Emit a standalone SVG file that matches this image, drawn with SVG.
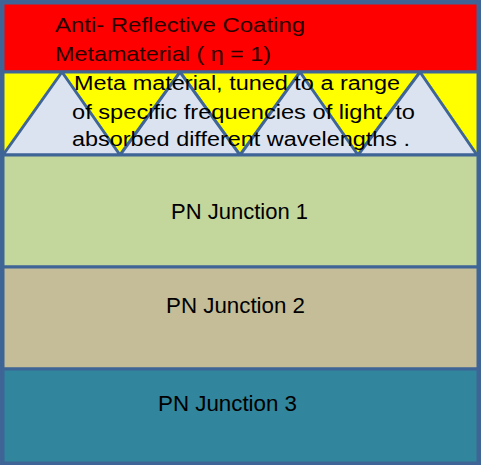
<svg xmlns="http://www.w3.org/2000/svg" width="481" height="465" viewBox="0 0 481 465">
<style>
.ln{stroke:#3F6597;stroke-width:3}
.t{font-family:"Liberation Sans","DejaVu Sans",sans-serif;font-size:20px;fill:#000}
.h{font-size:21px;fill:#2a0000}
.p{font-size:22px}
.tri{fill:#DCE3F0;stroke:#3F6597;stroke-width:3;stroke-linejoin:round}
</style>
<rect x="0" y="0" width="481" height="465" fill="#3F6597"/>
<g id="coating">
<rect x="3" y="3" width="475" height="69" fill="#FF0000" class="ln"/>
<text class="t h" x="55" y="32" textLength="250" lengthAdjust="spacingAndGlyphs">Anti- Reflective  Coating</text>
<text class="t h" x="55" y="61" textLength="216" lengthAdjust="spacingAndGlyphs">Metamaterial ( η = 1)</text>
</g>
<g id="metamaterial">
<rect x="3" y="72" width="475" height="83" fill="#FFFF00" class="ln"/>
<polygon points="3,155 62,72 120,155" class="tri"/>
<polygon points="120,155 180,72 240,155" class="tri"/>
<polygon points="240,155 300,72 358,155" class="tri"/>
<polygon points="358,155 420,72 477,155" class="tri"/>
<text class="t" x="74" y="90" textLength="326" lengthAdjust="spacingAndGlyphs">Meta material, tuned to a range</text>
<text class="t" x="72" y="119" textLength="343" lengthAdjust="spacingAndGlyphs">of specific frequencies of light. to</text>
<text class="t" x="72" y="146" textLength="338" lengthAdjust="spacingAndGlyphs">absorbed different wavelengths .</text>
</g>
<g id="pn1">
<rect x="3" y="155" width="475" height="112" fill="#C3D69B" class="ln"/>
<text class="t p" x="171" y="219" textLength="137" lengthAdjust="spacingAndGlyphs">PN Junction 1</text>
</g>
<g id="pn2">
<rect x="3" y="267" width="475" height="102" fill="#C4BD97" class="ln"/>
<text class="t p" x="166" y="313" textLength="139" lengthAdjust="spacingAndGlyphs">PN Junction 2</text>
</g>
<g id="pn3">
<rect x="3" y="369" width="475" height="94" fill="#31859C" class="ln"/>
<text class="t p" x="158" y="411" textLength="139" lengthAdjust="spacingAndGlyphs" fill="#0a1a22">PN Junction 3</text>
</g>
<g id="connectors"/>
</svg>
